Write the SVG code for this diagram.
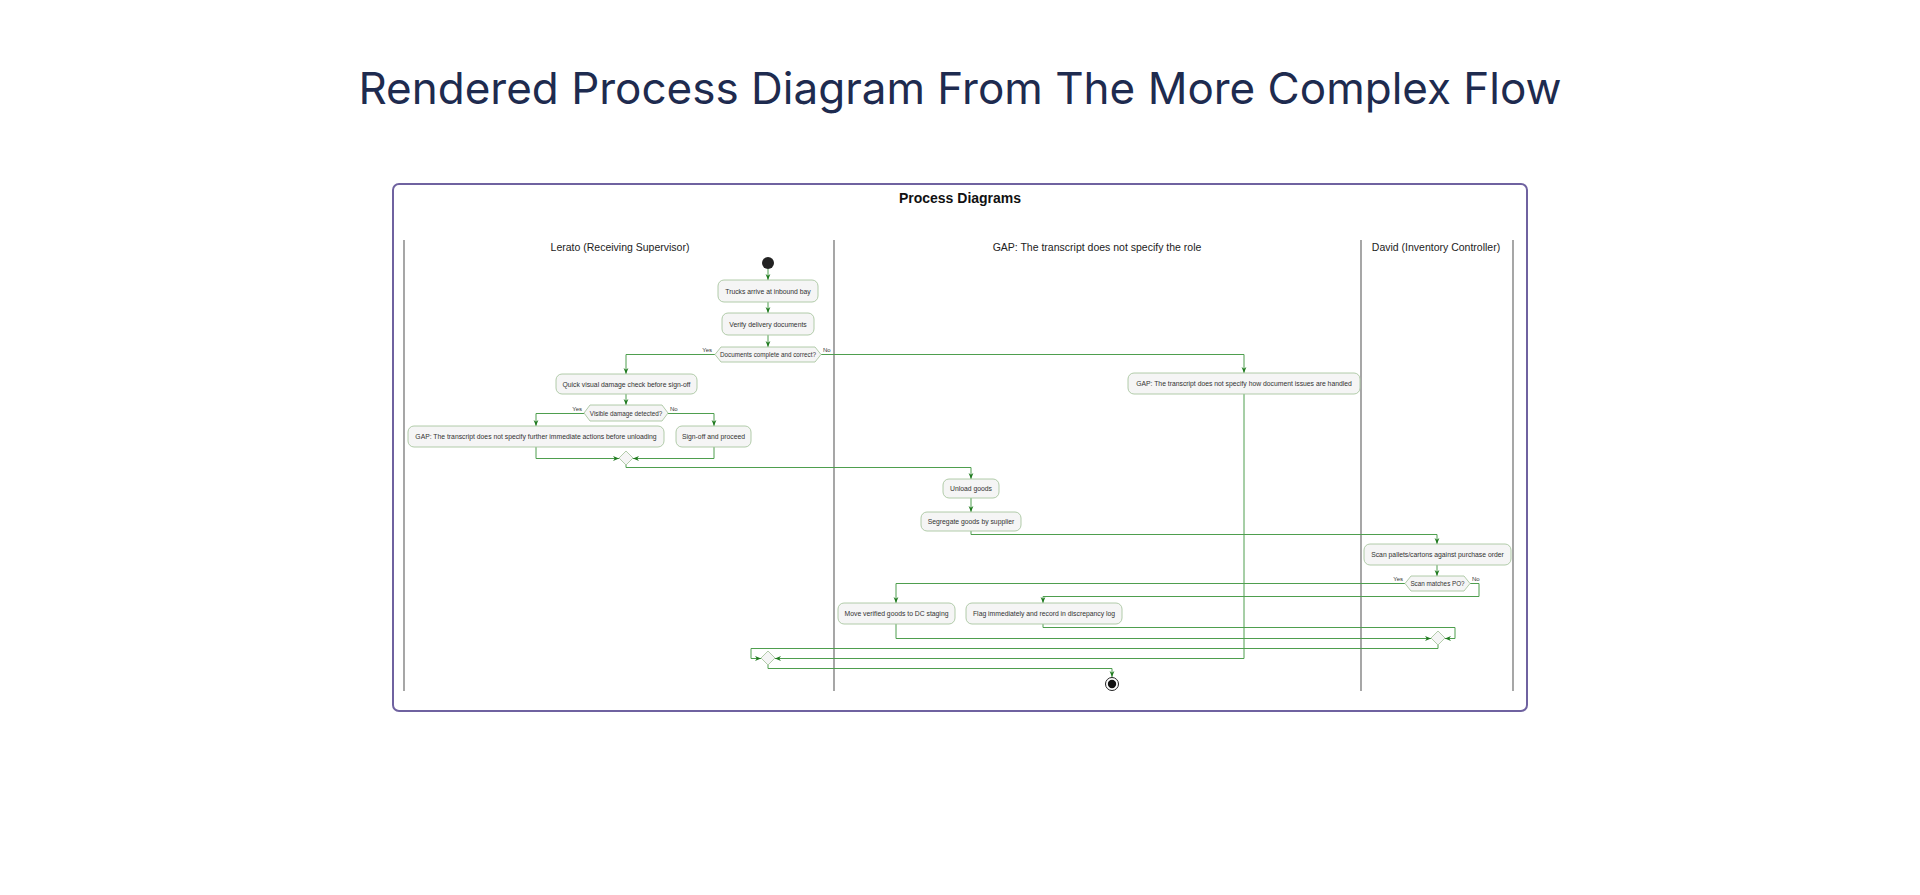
<svg xmlns="http://www.w3.org/2000/svg" width="1920" height="895" viewBox="0 0 1920 895">
<style>
.title{font-family:Inter,"Noto Sans",sans-serif;font-size:44px;fill:#1e2b4f;}
.ptitle{font-family:"Liberation Sans",Arial,sans-serif;font-size:14px;font-weight:bold;fill:#111;}
.lane{font-family:"Liberation Sans",Arial,sans-serif;font-size:10.5px;fill:#222;}
.lt{font-family:"Liberation Sans",Arial,sans-serif;font-size:6.8px;fill:#333;}
.dt{font-family:"Liberation Sans",Arial,sans-serif;font-size:6.3px;fill:#333;}
.gl{font-family:"Liberation Sans",Arial,sans-serif;font-size:6px;fill:#333;}
.box{fill:#f5f5f5;stroke:#a9c6a0;stroke-width:0.9;}
.ll{stroke:#777;stroke-width:1.3;fill:none;}
.c{fill:none;stroke:#4e9e4e;stroke-width:1;}
</style>
<defs>
<marker id="ah" viewBox="0 0 10 10" refX="10" refY="5" markerWidth="6" markerHeight="6" markerUnits="userSpaceOnUse" orient="auto"><path d="M0,1 L10,5 L0,9 L3,5 z" fill="#1f7a1f"/></marker>
</defs>
<rect width="1920" height="895" fill="#fff"/>
<text class="title" x="960" y="104" text-anchor="middle">Rendered Process Diagram From The More Complex Flow</text>
<g id="frame">
<rect x="393" y="184" width="1134" height="527" rx="6" fill="#fff" stroke="#6f62a0" stroke-width="2"/>
<text class="ptitle" x="960" y="203" text-anchor="middle">Process Diagrams</text>
</g>
<g id="lanes">
<line class="ll" x1="404" y1="240" x2="404" y2="691"/>
<line class="ll" x1="834" y1="240" x2="834" y2="691"/>
<line class="ll" x1="1361" y1="240" x2="1361" y2="691"/>
<line class="ll" x1="1513" y1="240" x2="1513" y2="691"/>
<text class="lane" x="620" y="251" text-anchor="middle">Lerato (Receiving Supervisor)</text>
<text class="lane" x="1097" y="251" text-anchor="middle">GAP: The transcript does not specify the role</text>
<text class="lane" x="1436" y="251" text-anchor="middle">David (Inventory Controller)</text>
</g>
<g id="connectors">
<path class="c" d="M768,269 V280" marker-end="url(#ah)"/>
<path class="c" d="M768,302 V313" marker-end="url(#ah)"/>
<path class="c" d="M768,335 V347" marker-end="url(#ah)"/>
<path class="c" d="M715,354.5 H626 V374" marker-end="url(#ah)"/>
<path class="c" d="M821,354.5 H1244 V373" marker-end="url(#ah)"/>
<path class="c" d="M626,394 V405" marker-end="url(#ah)"/>
<path class="c" d="M584,413.5 H536 V426" marker-end="url(#ah)"/>
<path class="c" d="M668,413.5 H714 V426" marker-end="url(#ah)"/>
<path class="c" d="M536,447 V458.5 H619" marker-end="url(#ah)"/>
<path class="c" d="M714,447 V458.5 H633" marker-end="url(#ah)"/>
<path class="c" d="M626,465 V467.5 H971 V479" marker-end="url(#ah)"/>
<path class="c" d="M971,498 V512" marker-end="url(#ah)"/>
<path class="c" d="M971,531 V534.5 H1437 V544" marker-end="url(#ah)"/>
<path class="c" d="M1437,565 V576" marker-end="url(#ah)"/>
<path class="c" d="M1405,583.5 H896 V603" marker-end="url(#ah)"/>
<path class="c" d="M1470,583.5 H1479 V596.5 H1043 V603" marker-end="url(#ah)"/>
<path class="c" d="M896,624 V638.5 H1431" marker-end="url(#ah)"/>
<path class="c" d="M1043,624 V627.5 H1455 V638.5 H1445" marker-end="url(#ah)"/>
<path class="c" d="M1438,645 V648.5 H751 V658.5 H761" marker-end="url(#ah)"/>
<path class="c" d="M1244,394 V658.5 H775" marker-end="url(#ah)"/>
<path class="c" d="M768,665 V668.5 H1112 V677" marker-end="url(#ah)"/>
<text class="gl" x="712" y="352" text-anchor="end">Yes</text>
<text class="gl" x="823" y="352">No</text>
<text class="gl" x="582" y="411" text-anchor="end">Yes</text>
<text class="gl" x="670" y="411">No</text>
<text class="gl" x="1403" y="581" text-anchor="end">Yes</text>
<text class="gl" x="1472" y="581">No</text>
</g>
<g id="start"><circle cx="768" cy="263" r="6" fill="#222"/></g>
<g id="n_trucks"><rect class="box" x="718" y="280" width="100" height="22" rx="6"/><text class="lt" x="768" y="293.5" text-anchor="middle">Trucks arrive at inbound bay</text></g>
<g id="n_verify"><rect class="box" x="722" y="313" width="92" height="22" rx="6"/><text class="lt" x="768" y="326.5" text-anchor="middle">Verify delivery documents</text></g>
<g id="d_docs"><polygon class="box" points="715,354.5 721,347 815,347 821,354.5 815,362 721,362"/><text class="dt" x="768" y="357" text-anchor="middle">Documents complete and correct?</text></g>
<g id="n_quick"><rect class="box" x="556" y="374" width="141" height="20" rx="6"/><text class="lt" x="626.5" y="386.5" text-anchor="middle">Quick visual damage check before sign-off</text></g>
<g id="n_gapdoc"><rect class="box" x="1128" y="373" width="232" height="21" rx="6"/><text class="lt" x="1244" y="386" text-anchor="middle">GAP: The transcript does not specify how document issues are handled</text></g>
<g id="d_damage"><polygon class="box" points="584,413 590,405 662,405 668,413 662,421 590,421"/><text class="dt" x="626" y="415.5" text-anchor="middle">Visible damage detected?</text></g>
<g id="n_gapunload"><rect class="box" x="408" y="426" width="256" height="21" rx="6"/><text class="lt" x="536" y="439" text-anchor="middle">GAP: The transcript does not specify further immediate actions before unloading</text></g>
<g id="n_signoff"><rect class="box" x="676" y="426" width="75" height="21" rx="6"/><text class="lt" x="713.5" y="439" text-anchor="middle">Sign-off and proceed</text></g>
<g id="m1"><polygon class="box" points="626,451 633,458 626,465 619,458"/></g>
<g id="n_unload"><rect class="box" x="943" y="479" width="56" height="19" rx="6"/><text class="lt" x="971" y="491" text-anchor="middle">Unload goods</text></g>
<g id="n_segregate"><rect class="box" x="921" y="512" width="100" height="19" rx="6"/><text class="lt" x="971" y="524" text-anchor="middle">Segregate goods by supplier</text></g>
<g id="n_scan"><rect class="box" x="1364" y="544" width="147" height="21" rx="6"/><text class="lt" x="1437.5" y="557" text-anchor="middle">Scan pallets/cartons against purchase order</text></g>
<g id="d_po"><polygon class="box" points="1405,583.5 1411,576 1464,576 1470,583.5 1464,591 1411,591"/><text class="dt" x="1437.5" y="586" text-anchor="middle">Scan matches PO?</text></g>
<g id="n_move"><rect class="box" x="838" y="603" width="117" height="21" rx="6"/><text class="lt" x="896.5" y="616" text-anchor="middle">Move verified goods to DC staging</text></g>
<g id="n_flag"><rect class="box" x="966" y="603" width="156" height="21" rx="6"/><text class="lt" x="1044" y="616" text-anchor="middle">Flag immediately and record in discrepancy log</text></g>
<g id="m2"><polygon class="box" points="1438,631 1445,638 1438,645 1431,638"/></g>
<g id="m3"><polygon class="box" points="768,651 775,658 768,665 761,658"/></g>
<g id="end"><circle cx="1112" cy="684" r="6.5" fill="#fff" stroke="#222" stroke-width="1"/><circle cx="1112" cy="684" r="4.2" fill="#111"/></g>
</svg>
